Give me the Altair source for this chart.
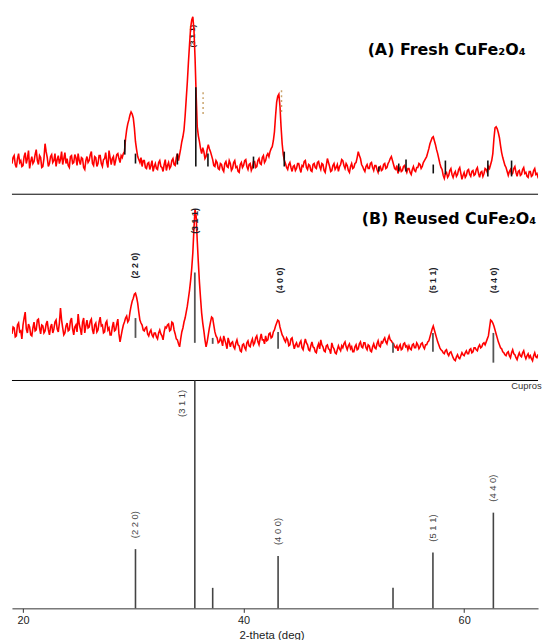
import altair as alt
import pandas as pd

# ---------------- data ----------------
START = 19.0          # first 2-theta sample (deg)
STEP = 0.1            # sampling step (deg)

# (A) fresh CuFe2O4 intensity (a.u.), 10 samples per degree
fresh = [
    30, 36, 38, 29, 26, 35, 40, 31, 33, 27,   # 19
    28, 37, 41, 30, 35, 43, 25, 32, 37, 30,   # 20
    32, 39, 44, 33, 29, 38, 36, 26, 27, 35,   # 21
    50, 42, 36, 27, 30, 37, 39, 31, 33, 40,   # 22
    27, 34, 38, 30, 34, 42, 29, 35, 41, 30,   # 23
    35, 28, 26, 37, 38, 30, 31, 39, 36, 28,   # 24
    40, 33, 29, 36, 35, 26, 24, 33, 37, 31,   # 25
    33, 39, 42, 30, 28, 37, 36, 27, 30, 38,   # 26
    38, 30, 27, 34, 35, 41, 31, 26, 43, 36,   # 27
    29, 35, 37, 28, 33, 39, 40, 35, 31, 38,   # 28
    36, 40, 42, 55, 64, 70, 74, 79, 82, 80,   # 29
    76, 66, 52, 44, 37, 34, 31, 36, 27, 33,   # 30
    33, 26, 25, 30, 31, 24, 28, 33, 22, 27,   # 31
    30, 25, 24, 31, 33, 27, 26, 22, 29, 34,   # 32
    23, 28, 31, 25, 27, 33, 35, 29, 28, 36,   # 33
    40, 33, 39, 45, 52, 57, 64, 78, 95, 112,  # 34
    132, 150, 167, 175, 178, 165, 137, 100, 67, 58,  # 35
    52, 45, 40, 46, 42, 35, 37, 44, 49, 45,   # 36
    42, 38, 34, 28, 27, 33, 31, 25, 24, 30,   # 37
    29, 24, 22, 30, 32, 27, 26, 33, 30, 23,   # 38
    25, 31, 33, 26, 27, 22, 21, 29, 31, 26,   # 39
    28, 33, 34, 27, 24, 29, 30, 23, 26, 32,   # 40
    32, 26, 27, 33, 35, 30, 29, 36, 38, 31,   # 41
    33, 38, 40, 37, 42, 45, 47, 53, 62, 78,   # 42
    92, 98, 100, 88, 67, 50, 39, 33, 30, 26,  # 43
    24, 29, 31, 26, 22, 27, 28, 23, 25, 30,   # 44
    30, 25, 21, 28, 27, 32, 33, 26, 24, 29,   # 45
    28, 23, 22, 29, 30, 26, 25, 31, 32, 27,   # 46
    24, 30, 29, 23, 21, 28, 35, 31, 27, 22,   # 47
    23, 28, 30, 24, 26, 29, 22, 27, 29, 34,   # 48
    33, 28, 25, 30, 28, 23, 21, 27, 30, 25,   # 49
    26, 30, 31, 36, 42, 38, 35, 29, 27, 24,   # 50
    22, 27, 29, 25, 25, 30, 31, 26, 23, 28,   # 51
    28, 24, 21, 26, 27, 23, 24, 29, 30, 25,   # 52
    26, 30, 32, 35, 37, 33, 29, 25, 24, 28,   # 53
    20, 24, 26, 22, 23, 27, 28, 24, 21, 25,   # 54
    25, 21, 19, 24, 27, 23, 22, 26, 26, 30,   # 55
    29, 25, 27, 31, 33, 35, 37, 41, 45, 50,   # 56
    53, 56, 57, 53, 49, 44, 40, 35, 30, 26,   # 57
    24, 18, 15, 20, 21, 16, 18, 23, 25, 19,   # 58
    16, 20, 22, 17, 19, 24, 26, 20, 14, 18,   # 59
    21, 16, 18, 23, 24, 19, 17, 22, 23, 18,   # 60
    19, 24, 26, 20, 16, 21, 22, 17, 20, 25,   # 61
    24, 21, 27, 25, 29, 33, 40, 55, 66, 67,   # 62
    65, 61, 56, 48, 41, 36, 32, 28, 26, 22,   # 63
    18, 22, 24, 19, 20, 25, 27, 21, 17, 22,   # 64
    23, 18, 19, 24, 26, 20, 21, 17, 16, 22,   # 65
    22, 17, 18, 23, 25, 19, 20, 16, 17, 21,   # 66
    21, 16, 14, 18, 16,                       # 67
]

# (B) reused CuFe2O4 intensity (a.u.)
reused = [
    46, 53, 52, 43, 44, 55, 57, 48, 49, 41,   # 19
    55, 62, 68, 51, 47, 56, 53, 45, 44, 52,   # 20
    58, 49, 50, 60, 61, 52, 46, 55, 54, 47,   # 21
    49, 56, 59, 50, 45, 53, 56, 47, 51, 58,   # 22
    60, 51, 48, 57, 72, 60, 52, 45, 47, 54,   # 23
    57, 49, 50, 59, 62, 51, 45, 53, 55, 48,   # 24
    66, 56, 51, 45, 58, 62, 47, 54, 60, 52,   # 25
    53, 59, 61, 50, 46, 55, 57, 48, 50, 58,   # 26
    63, 54, 55, 47, 48, 57, 59, 50, 52, 45,   # 27
    45, 53, 58, 49, 50, 56, 61, 46, 38, 44,   # 28
    50, 55, 58, 62, 64, 58, 60, 68, 74, 79,   # 29
    82, 86, 87, 83, 77, 68, 60, 57, 55, 50,   # 30
    49, 52, 53, 46, 44, 48, 50, 45, 43, 47,   # 31
    47, 43, 41, 47, 50, 46, 44, 40, 48, 53,   # 32
    52, 55, 56, 49, 50, 58, 57, 50, 46, 41,   # 33
    40, 36, 33, 41, 48, 52, 58, 62, 68, 74,   # 34
    82, 90, 100, 112, 128, 152, 172, 165, 140, 118,  # 35
    98, 82, 67, 57, 49, 40, 33, 38, 45, 52,   # 36
    58, 63, 62, 55, 48, 44, 42, 37, 38, 42,   # 37
    39, 34, 44, 40, 36, 31, 42, 38, 33, 37,   # 38
    38, 33, 31, 37, 40, 35, 34, 29, 28, 35,   # 39
    36, 32, 30, 37, 39, 34, 33, 38, 41, 35,   # 40
    37, 42, 44, 38, 35, 41, 46, 40, 40, 36,   # 41
    44, 39, 40, 46, 47, 42, 43, 48, 50, 54,   # 42
    57, 60, 59, 53, 49, 45, 43, 40, 38, 42,   # 43
    40, 34, 35, 41, 42, 36, 31, 35, 37, 33,   # 44
    33, 37, 39, 32, 30, 36, 41, 37, 35, 30,   # 45
    29, 34, 38, 33, 32, 28, 27, 33, 36, 31,   # 46
    40, 35, 33, 29, 28, 34, 35, 31, 30, 26,   # 47
    37, 33, 31, 27, 26, 30, 34, 31, 29, 34,   # 48
    32, 36, 38, 33, 30, 34, 36, 31, 33, 28,   # 49
    28, 33, 35, 30, 31, 36, 38, 33, 32, 37,   # 50
    37, 32, 30, 35, 34, 29, 28, 33, 36, 32,   # 51
    31, 36, 39, 34, 33, 38, 37, 40, 42, 38,   # 52
    36, 41, 44, 40, 39, 37, 36, 33, 32, 34,   # 53
    29, 33, 35, 30, 31, 36, 37, 33, 34, 30,   # 54
    34, 31, 30, 35, 36, 32, 32, 37, 35, 31,   # 55
    33, 36, 37, 33, 31, 35, 35, 38, 39, 43,   # 56
    47, 51, 54, 50, 46, 42, 38, 35, 32, 30,   # 57
    29, 27, 26, 29, 30, 26, 24, 27, 28, 25,   # 58
    22, 20, 19, 23, 25, 22, 21, 24, 27, 25,   # 59
    24, 27, 29, 26, 26, 30, 31, 27, 28, 32,   # 60
    32, 30, 29, 33, 35, 32, 33, 36, 37, 35,   # 61
    38, 41, 44, 52, 60, 59, 57, 54, 50, 46,   # 62
    42, 38, 35, 32, 31, 28, 27, 25, 24, 27,   # 63
    28, 24, 22, 27, 30, 26, 25, 22, 20, 24,   # 64
    27, 24, 23, 27, 29, 24, 21, 24, 26, 22,   # 65
    24, 21, 19, 24, 27, 23, 22, 25, 25, 21,   # 66
    21, 24, 23, 20, 19,                       # 67
]

# small black marker sticks in panel A (position, bottom, top)
markA_pos = [29.23, 30.2, 34.0, 35.67, 36.77, 40.9, 43.69, 52.27, 54.07, 54.73, 57.2, 58.3, 62.15, 64.3]
markA_lo = [39, 30, 29, 27, 27, 25, 27, 22, 22, 22, 20, 19, 17, 17]
markA_hi = [54, 40, 40, 107, 40, 37, 42, 27, 30, 34, 29, 33, 33, 33]
dotA_pos = [36.33, 43.44]
dotA_lo = [80, 82]
dotA_hi = [104, 105]

# gray marker sticks in panel B
markB_pos = [30.2, 35.58, 37.2, 43.13, 53.55, 57.17, 62.65]
markB_lo = [42, 37, 36, 31, 27, 28, 17]
markB_hi = [62, 108, 42, 48, 37, 47, 47]

# (hkl) labels in panel B
hklB_pos = [30.2, 35.6, 43.3, 57.15, 62.7]
hklB_y = [102, 147, 87, 87, 87]
hklB_txt = ["(2 2 0)", "(3 1 1)", "(4 0 0)", "(5 1 1)", "(4 4 0)"]

# reference stick pattern (Cuprospinel)
ref_pos = [30.2, 35.58, 37.2, 43.13, 53.55, 57.17, 62.65]
ref_int = [26, 100, 9, 23, 9, 24.5, 42]
ref_hkl = ["(2 2 0)", "", "", "(4 0 0)", "", "(5 1 1)", "(4 4 0)"]
ref311_pos = [34.44]
ref311_y = [84]
ref311_txt = ["(3 1 1)"]

X_TICKS = [20, 40, 60]
X_DOMAIN = [19.0, 66.7]

# ---------------- build ----------------
grid = [round(START + i * STEP, 2) for i in range(len(fresh))]
W = 531
FONT = "Liberation Sans"
xs = alt.Scale(domain=X_DOMAIN, nice=False, zero=False)


def yscale(h):
    return alt.Scale(domain=[0, h], nice=False, zero=False)


X_AXIS = alt.Axis(
    values=X_TICKS, format="d", title="2-theta (deg)", grid=False, tickSize=4,
    labelFont=FONT, labelFontSize=11, labelColor="#222", labelPadding=2,
    titleFont=FONT, titleFontSize=11.5, titleFontWeight="normal", titleColor="#222",
    titlePadding=4, titleX=262, domainColor="#333", tickColor="#333")

# ---- panel A ----
HA = 184
dfA = pd.DataFrame({"t": grid, "i": fresh})
dfMA = pd.DataFrame({"t": markA_pos, "lo": markA_lo, "hi": markA_hi})
dfDA = pd.DataFrame({"t": dotA_pos, "lo": dotA_lo, "hi": dotA_hi})

a_txt311 = alt.Chart(pd.DataFrame({"t": [35.43], "y": [147], "s": ["(3 1 1)"]})).mark_text(
    angle=270, align="left", baseline="middle", fontSize=8, fontWeight="bold", font=FONT, color="#111"
).encode(x=alt.X("t:Q", scale=xs, axis=None), y=alt.Y("y:Q", scale=yscale(HA), axis=None), text="s:N")
a_line = alt.Chart(dfA).mark_line(color="#ff0000", strokeWidth=1.6, clip=True).encode(
    x=alt.X("t:Q", scale=xs, axis=None), y=alt.Y("i:Q", scale=yscale(HA), axis=None))
a_marks = alt.Chart(dfMA).mark_rule(color="#111", strokeWidth=1.6).encode(
    x=alt.X("t:Q", scale=xs, axis=None), y=alt.Y("lo:Q", scale=yscale(HA), axis=None), y2="hi:Q")
a_dots = alt.Chart(dfDA).mark_rule(color="#c9a36b", strokeWidth=1.5, strokeDash=[2, 3]).encode(
    x=alt.X("t:Q", scale=xs, axis=None), y=alt.Y("lo:Q", scale=yscale(HA), axis=None), y2="hi:Q")
a_title = alt.Chart(pd.DataFrame({"s": ["(A) Fresh CuFe\u2082O\u2084"]})).mark_text(
    align="left", baseline="middle", fontSize=16, fontWeight="bold", font="DejaVu Sans", color="#000"
).encode(text="s:N", x=alt.value(359), y=alt.value(39))
panelA = alt.layer(a_txt311, a_line, a_marks, a_dots, a_title).properties(width=W, height=HA)

# ---- panel B ----
HB = 187
dfB = pd.DataFrame({"t": grid, "i": reused})
dfMB = pd.DataFrame({"t": markB_pos, "lo": markB_lo, "hi": markB_hi})
dfLB = pd.DataFrame({"t": hklB_pos, "y": hklB_y, "s": hklB_txt})
b_top = alt.Chart(pd.DataFrame({"d": [0]})).mark_rule(color="#000", strokeWidth=1).encode(
    x=alt.value(0), x2=alt.value(W), y=alt.value(0))
b_line = alt.Chart(dfB).mark_line(color="#ff0000", strokeWidth=1.6, clip=True).encode(
    x=alt.X("t:Q", scale=xs, axis=None), y=alt.Y("i:Q", scale=yscale(HB), axis=None))
b_marks = alt.Chart(dfMB).mark_rule(color="#555", strokeWidth=1.8).encode(
    x=alt.X("t:Q", scale=xs, axis=None), y=alt.Y("lo:Q", scale=yscale(HB), axis=None), y2="hi:Q")
b_lab = alt.Chart(dfLB).mark_text(
    angle=270, align="left", baseline="middle", fontSize=9, fontWeight="bold", font=FONT, color="#1c1c28"
).encode(x=alt.X("t:Q", scale=xs, axis=None), y=alt.Y("y:Q", scale=yscale(HB), axis=None), text="s:N")
b_title = alt.Chart(pd.DataFrame({"s": ["(B) Reused CuFe\u2082O\u2084"]})).mark_text(
    align="left", baseline="middle", fontSize=16, fontWeight="bold", font="DejaVu Sans", color="#000"
).encode(text="s:N", x=alt.value(353), y=alt.value(25))
panelB = alt.layer(b_top, b_line, b_marks, b_lab, b_title).properties(width=W, height=HB)

# ---- panel C ----
HC = 230
dfR = pd.DataFrame({"t": ref_pos, "i": ref_int, "s": ref_hkl, "z": [0] * len(ref_pos)})
dfRL = dfR[dfR["s"] != ""]
c_top = alt.Chart(pd.DataFrame({"d": [0]})).mark_rule(color="#000", strokeWidth=1).encode(
    x=alt.value(0), x2=alt.value(W), y=alt.value(0))
c_sticks = alt.Chart(dfR).mark_rule(color="#444", strokeWidth=1.6).encode(
    x=alt.X("t:Q", scale=xs, axis=X_AXIS),
    y=alt.Y("z:Q", scale=yscale(100), axis=None), y2="i:Q")
c_lab = alt.Chart(dfRL).mark_text(
    angle=270, align="left", baseline="middle", fontSize=9.5, font=FONT, color="#444", dx=11
).encode(x=alt.X("t:Q", scale=xs, axis=X_AXIS), y=alt.Y("i:Q", scale=yscale(100), axis=None), text="s:N")
c_lab311 = alt.Chart(pd.DataFrame({"t": ref311_pos, "y": ref311_y, "s": ref311_txt})).mark_text(
    angle=270, align="left", baseline="middle", fontSize=9.5, font=FONT, color="#444"
).encode(x=alt.X("t:Q", scale=xs, axis=X_AXIS), y=alt.Y("y:Q", scale=yscale(100), axis=None), text="s:N")
c_name = alt.Chart(pd.DataFrame({"s": ["Cupros"]})).mark_text(
    align="left", baseline="middle", fontSize=9.5, font=FONT, color="#333"
).encode(text="s:N", x=alt.value(504), y=alt.value(6))
panelC = alt.layer(c_top, c_sticks, c_lab, c_lab311, c_name).properties(width=W, height=HC)

chart = alt.vconcat(panelA, panelB, panelC, spacing=0).properties(
    padding={"left": 3, "top": 0, "right": 0, "bottom": 0}
).configure_view(stroke=None).configure_concat(spacing=0)

chart.save("out.html", embed_options={"renderer": "svg", "actions": False})
